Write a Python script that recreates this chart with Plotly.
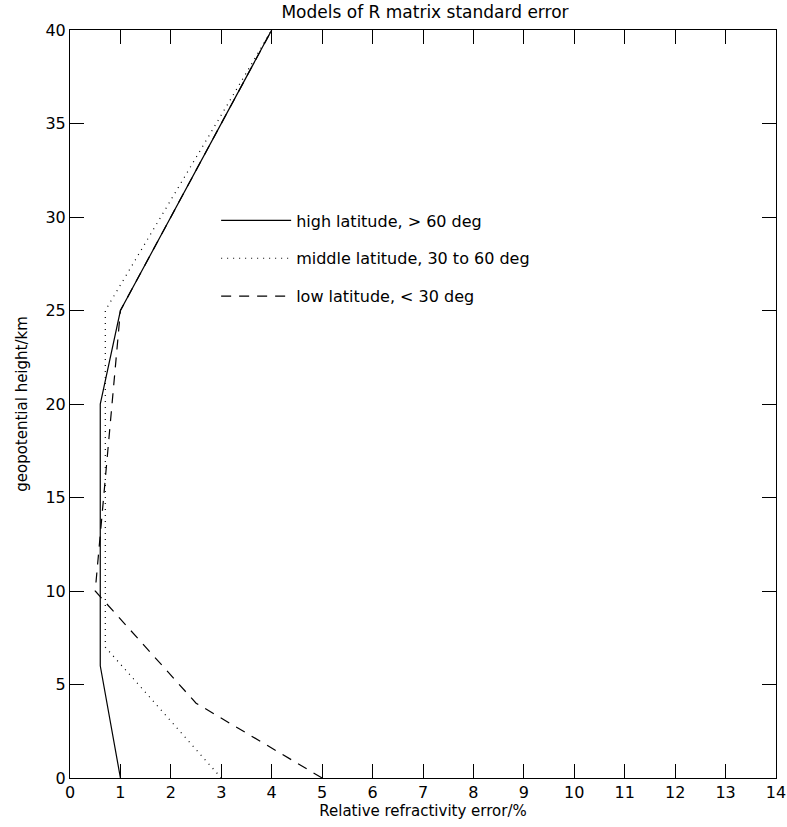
import plotly.graph_objects as go

# Data
high_x = [1.0, 0.6, 0.6, 1.0, 4.0]
high_y = [0, 6, 20, 25, 40]
mid_x = [3.0, 0.7, 0.7, 4.0]
mid_y = [0, 7, 25, 40]
low_x = [5.0, 2.5, 0.5, 1.0, 4.0]
low_y = [0, 4, 10, 25, 40]

names = ["high latitude, > 60 deg", "middle latitude, 30 to 60 deg", "low latitude, < 30 deg"]
x_ticks = list(range(0, 15))
y_ticks = [0, 5, 10, 15, 20, 25, 30, 35, 40]

FONT = "DejaVu Sans, sans-serif"

fig = go.Figure()
fig.add_trace(go.Scatter(x=high_x, y=high_y, mode="lines", name=names[0], legendgroup="a",
                         line=dict(color="black", width=1.2)))
fig.add_trace(go.Scatter(x=mid_x, y=mid_y, mode="lines", name=names[1], legendgroup="b",
                         line=dict(color="black", width=1.2, dash="1px,5px")))
fig.add_trace(go.Scatter(x=low_x, y=low_y, mode="lines", name=names[2], legendgroup="c",
                         line=dict(color="black", width=1.2, dash="10px,8px")))

axis_common = dict(showgrid=False, zeroline=False, showline=True, linecolor="black", linewidth=1,
                   mirror="ticks", ticks="inside", ticklen=14, tickcolor="black", tickwidth=1,
                   ticklabeloverflow="allow", automargin=False,
                   tickfont=dict(family=FONT, size=16, color="black"))

fig.update_layout(
    width=787, height=827,
    margin=dict(l=70, r=11, t=30, b=49),
    paper_bgcolor="white", plot_bgcolor="white",
    font=dict(family=FONT, color="black"),
    title=dict(text="Models of R matrix standard error", x=425 / 787, xanchor="center",
               y=1 - 12 / 827, yanchor="middle", font=dict(family=FONT, size=17, color="black")),
    xaxis=dict(range=[0, 14], tickvals=x_ticks,
               title=dict(text="Relative refractivity error/%", standoff=2,
                          font=dict(family=FONT, size=15, color="black")),
               **axis_common),
    yaxis=dict(range=[0, 40], tickvals=y_ticks,
               title=dict(text="geopotential height/km", standoff=14,
                          font=dict(family=FONT, size=15, color="black")),
               **axis_common),
    legend=dict(x=0.207, y=0.768, xanchor="left", yanchor="top", bgcolor="rgba(0,0,0,0)",
                font=dict(family=FONT, size=16, color="black"), tracegroupgap=14, itemwidth=70),
    showlegend=True,
)

fig.write_html("out.html")
